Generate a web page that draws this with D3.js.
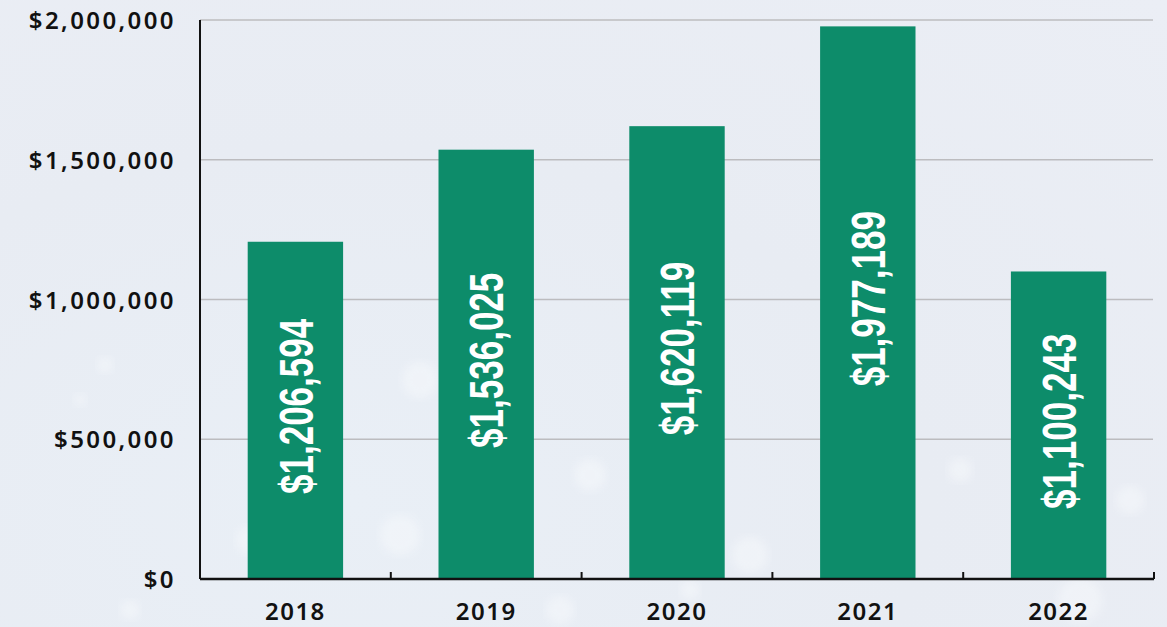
<!DOCTYPE html>
<html>
<head>
<meta charset="utf-8">
<script src="https://cdn.jsdelivr.net/npm/d3@7"></script>
<style>
  html, body { margin: 0; padding: 0; }
  body {
    width: 1167px; height: 627px; overflow: hidden;
    background: radial-gradient(ellipse at 30% 80%, #e9eff6 0%, #e8ecf3 50%, #ebeef5 100%);
  }
  .ytick text { font-family: "Noto Sans", sans-serif; font-weight: 600; font-size: 24px; letter-spacing: 2.4px; fill: #111; }
  .xlab { font-family: "Noto Sans", sans-serif; font-weight: 600; font-size: 24px; letter-spacing: 1.5px; fill: #111; }
  .val { font-family: "Liberation Sans Narrow", "Arial Narrow", sans-serif; font-weight: bold; font-size: 48px; fill: #fff; }
</style>
</head>
<body>
<div id="chart"></div>
<script>
// values
var years = ["2018", "2019", "2020", "2021", "2022"];
var amounts = [1206594, 1536025, 1620119, 1977189, 1100243];
var yTicks = [0, 500000, 1000000, 1500000, 2000000];

var W = 1167, H = 627;
var margin = {top: 20, right: 11, bottom: 48, left: 200};
var width = W - margin.left - margin.right,
    height = H - margin.top - margin.bottom;

var svg = d3.select("#chart").append("svg")
    .attr("width", W).attr("height", H);

// a few soft bokeh blobs for the background
svg.append("defs").append("filter").attr("id", "blur")
    .append("feGaussianBlur").attr("stdDeviation", 4);
var bokeh = [[105, 365, 8], [80, 400, 6], [420, 380, 18], [590, 475, 16], [400, 535, 20],
             [250, 540, 14], [750, 555, 18], [870, 545, 12], [1080, 600, 22], [130, 610, 10],
             [1130, 500, 14], [690, 590, 10], [960, 470, 12], [560, 610, 14]];
svg.append("g").selectAll("circle").data(bokeh).join("circle")
    .attr("cx", function(d) { return d[0]; })
    .attr("cy", function(d) { return d[1]; })
    .attr("r", function(d) { return d[2]; })
    .attr("fill", "#f7f9fc").attr("opacity", 0.5)
    .attr("filter", "url(#blur)");

var g = svg.append("g").attr("transform", "translate(" + margin.left + "," + margin.top + ")");

var x = d3.scaleBand().domain(years).range([0, width - 2]).paddingInner(0.5).paddingOuter(0.25);
var y = d3.scaleLinear().domain([0, 2000000]).range([height, 0]);

// gridlines
g.append("g").selectAll("line").data(yTicks.slice(1)).join("line")
    .attr("x1", 0).attr("x2", width - 3)
    .attr("y1", function(d) { return y(d); })
    .attr("y2", function(d) { return y(d); })
    .attr("stroke", "#bcbcbf").attr("stroke-width", 1.5);

// y axis
var yAxis = g.append("g").attr("class", "ytick")
    .call(d3.axisLeft(y).tickValues(yTicks).tickSize(0).tickPadding(24)
      .tickFormat(function(d) { return "$" + d3.format(",")(d); }));
yAxis.select(".domain").remove();
yAxis.selectAll("text").attr("dy", "0.36em");
g.append("line").attr("x1", 0).attr("x2", 0).attr("y1", 0).attr("y2", height)
    .attr("stroke", "#111").attr("stroke-width", 2);

// bars
g.append("g").selectAll("rect").data(amounts).join("rect")
    .attr("x", function(d, i) { return x(years[i]); })
    .attr("width", x.bandwidth())
    .attr("y", function(d) { return y(d); })
    .attr("height", function(d) { return height - y(d); })
    .attr("fill", "#0d8c6a");

// value labels, rotated inside bars
g.append("g").selectAll("text").data(amounts).join("text")
    .attr("class", "val")
    .attr("text-anchor", "middle")
    .attr("dy", "0.36em")
    .attr("transform", function(d, i) {
      var cx = x(years[i]) + x.bandwidth() / 2;
      var cy = (y(d) + height) / 2 - 4;
      return "translate(" + cx + "," + cy + ") rotate(-90) scale(0.73,1)";
    })
    .text(function(d) { return "$" + d3.format(",")(d); });

// x axis with inward ticks between bands
var step = x.step();
var bounds = d3.range(years.length + 1).map(function(i) { return i * step; });
g.append("line").attr("x1", 0).attr("x2", bounds[bounds.length - 1])
    .attr("y1", height).attr("y2", height)
    .attr("stroke", "#111").attr("stroke-width", 2.5);
g.append("g").selectAll("line").data(bounds.slice(1)).join("line")
    .attr("x1", function(d) { return d; }).attr("x2", function(d) { return d; })
    .attr("y1", height).attr("y2", height - 7)
    .attr("stroke", "#111").attr("stroke-width", 2);

g.append("g").selectAll("text").data(years).join("text")
    .attr("class", "xlab")
    .attr("text-anchor", "middle")
    .attr("x", function(d) { return x(d) + x.bandwidth() / 2; })
    .attr("y", height + 41)
    .text(function(d) { return d; });
</script>
</body>
</html>
